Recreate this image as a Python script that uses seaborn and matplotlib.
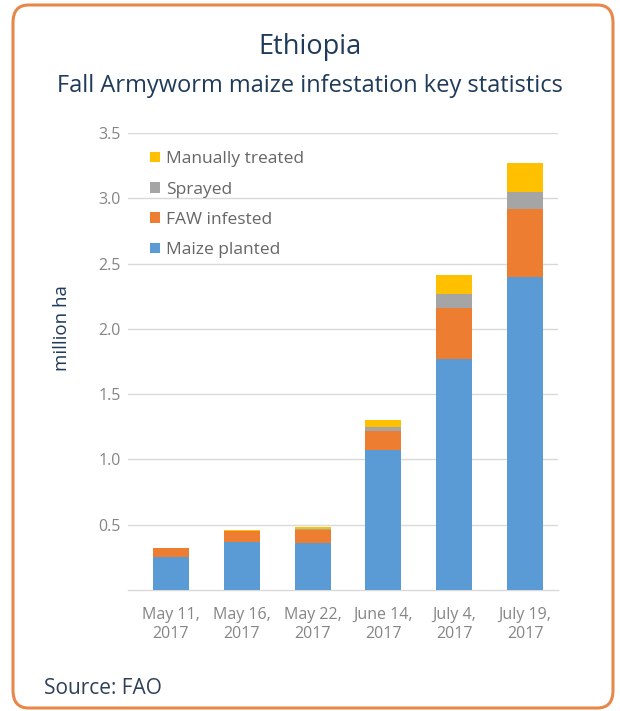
import matplotlib
matplotlib.use("Agg")
import matplotlib.pyplot as plt
from matplotlib.patches import FancyBboxPatch, Patch
import seaborn as sns
import pandas as pd
import numpy as np

dates = ["May 11,\n2017", "May 16,\n2017", "May 22,\n2017", "June 14,\n2017", "July 4,\n2017", "July 19,\n2017"]
maize_planted = [0.25, 0.37, 0.36, 1.07, 1.77, 2.40]
faw_infested = [0.07, 0.08, 0.10, 0.15, 0.39, 0.52]
sprayed = [0.00, 0.005, 0.01, 0.03, 0.11, 0.13]
manually_treated = [0.00, 0.005, 0.01, 0.05, 0.14, 0.22]

series_names = ["Maize planted", "FAW infested", "Sprayed", "Manually treated"]
series_colors = ["#5B9BD5", "#ED7D31", "#A5A5A5", "#FFC000"]

sns.set_theme(style="white")
plt.rcParams['font.family'] = ['Open Sans', 'DejaVu Sans']

fig = plt.figure(figsize=(6.2, 7.11), dpi=100)
fig.patch.set_facecolor("white")

# rounded orange frame
frame = FancyBboxPatch((13/620, 1 - 708/711), 600/620, 703/711,
                       boxstyle="round,pad=0,rounding_size=0.025",
                       transform=fig.transFigure, facecolor="none",
                       edgecolor="#E8874A", linewidth=2.2, zorder=-10)
fig.patches.append(frame)

ax = fig.add_axes([128/620, 1 - 590/711, 430/620, (590 - 133)/711])
ax.set_facecolor("none")
ax.set_zorder(5)

df = pd.DataFrame({
    "date": dates,
    "Maize planted": maize_planted,
    "FAW infested": faw_infested,
    "Sprayed": sprayed,
    "Manually treated": manually_treated,
})
cum = df[series_names].cumsum(axis=1)

# draw cumulative layers, tallest first so shorter ones overlay
for name, color in reversed(list(zip(series_names, series_colors))):
    sns.barplot(x=df["date"], y=cum[name], color=color, width=0.51,
                saturation=1, ax=ax, zorder=3, order=dates,
                linewidth=0, edgecolor="none")

ax.set_ylim(0, 3.5)
ax.set_xlim(-0.607, 5.466)
ax.set_yticks([0.5, 1.0, 1.5, 2.0, 2.5, 3.0, 3.5])
ax.set_yticklabels([f"{v:.1f}" for v in [0.5, 1.0, 1.5, 2.0, 2.5, 3.0, 3.5]])
ax.yaxis.grid(True, color="#D9D9D9", linewidth=1.0, zorder=0)
ax.set_axisbelow(True)
for s in ["top", "right", "left"]:
    ax.spines[s].set_visible(False)
ax.spines["bottom"].set_color("#D9D9D9")
ax.spines["bottom"].set_linewidth(1.0)
ax.tick_params(axis="y", length=0, pad=5, labelsize=11.5, labelcolor="#858585")
ax.tick_params(axis="x", length=0, pad=12, labelsize=11.5, labelcolor="#858585")
for lbl in ax.get_xticklabels():
    lbl.set_linespacing(1.3)
ax.set_xlabel("")
ax.set_ylabel("million ha", fontsize=13.5, color="#1F3B5A")
ax.yaxis.set_label_coords(-0.132, 0.573)

handles = [Patch(facecolor=c, edgecolor="none") for c in reversed(series_colors)]
labels = list(reversed(series_names))
leg = ax.legend(handles, labels, loc="upper left", bbox_to_anchor=(0.035, 0.975),
                frameon=False, fontsize=12.5, handlelength=0.55, handleheight=0.55,
                handletextpad=0.4, labelspacing=0.82, borderaxespad=0)
for t in leg.get_texts():
    t.set_color("#666666")

fig.text(0.5, 1 - 47/711, "Ethiopia", ha="center", va="center",
         fontsize=19.5, color="#1F3B5A")
fig.text(0.5, 1 - 86/711, "Fall Armyworm maize infestation key statistics",
         ha="center", va="center", fontsize=17, color="#1F3B5A")
fig.text(44/620, 1 - 688/711, "Source: FAO", ha="left", va="center",
         fontsize=15, color="#2E4057")

fig.savefig("out.png", dpi=100, facecolor="white")
